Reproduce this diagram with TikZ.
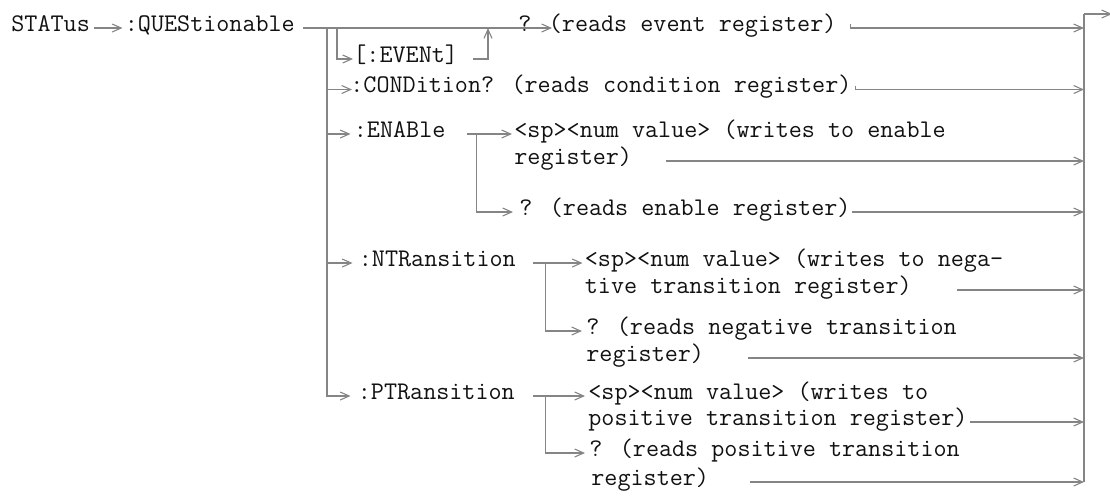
\documentclass[tikz,border=0pt]{standalone}
\usepackage{fontspec}
\usepackage{tikz}
\usetikzlibrary{arrows.meta,calc}
\definecolor{wire}{HTML}{858585}
\definecolor{ink}{HTML}{111111}

\begin{document}
\begin{tikzpicture}[
  x=0.5pt, y=-0.5pt,
  >={Straight Barb[length=4.5pt,width=4pt]},
  kw/.style={anchor=west, inner sep=0pt, text height=7pt, text depth=3.8pt,
             font=\ttfamily\fontsize{12.69}{16}\selectfont, text=ink},
  wire/.style={draw=wire, line width=0.55pt},
]
\useasboundingbox (0,0) rectangle (1110,495);
\def\xbus{1084}

% ===== root: STATus -> :QUEStionable =====
\node[kw] (status) at (11,28) {STATus};
\node[kw] (quest) at (124.5,28) {:QUEStionable};
\draw[wire,->] (status.east) ++(4,0) -- ([xshift=-1pt]quest.west);

% ===== [:EVENt] (optional) =====
\node[kw] (event) at (353,59) {[:EVENt]};
\node[kw] (evq) at (518,28) {? (reads event register)};
\coordinate (trunk) at (327,28);
\coordinate (evsplit) at (337,28);
\coordinate (evjoin) at (488,28);
\draw[wire,->] (quest.east) ++(8,0) -- ([xshift=17pt]evq.west);
\draw[wire,->] (evsplit) |- (event.west);
\draw[wire,->] (event.east) ++(15,0) -| (evjoin);

% ===== trunk branches =====
\node[kw] (cond) at (350,89.5) {:CONDition? (reads condition register)};
\node[kw] (ena) at (353.5,134) {:ENABle};
\node[kw] (ntr) at (358.5,263) {:NTRansition};
\node[kw] (ptr) at (357.5,396) {:PTRansition};
\draw[wire,->] (trunk) |- ([xshift=-3.5pt]ptr.west);
\draw[wire,->] (trunk |- cond) -- ([xshift=1pt]cond.west);
\draw[wire,->] (trunk |- ena) -- ([xshift=-1.5pt]ena.west);
\draw[wire,->] (trunk |- ntr) -- ([xshift=-3pt]ntr.west);

% ENABle: write / query
\node[kw] (enaw) at (514,134) {<sp><num value> (writes to enable};
\node[kw] (enaw2) at (514,161) {register)};
\node[kw] (enaq) at (519,212) {? (reads enable register)};
\draw[wire,->] (ena.east) ++(21,0) -- ([xshift=-1pt]enaw.west);
\draw[wire,->] (ena.east) ++(31,0) |- ([xshift=-3pt]enaq.west);

% NTRansition: write / query
\node[kw] (ntrw) at (584.5,263) {<sp><num value> (writes to nega-};
\node[kw] (ntrw2) at (584.5,290) {tive transition register)};
\node[kw] (ntrq) at (586,331) {? (reads negative transition};
\node[kw] (ntrq2) at (586,358) {register)};
\draw[wire,->] (ntr.east) ++(17,0) -- ([xshift=-1pt]ntrw.west);
\draw[wire,->] (ntr.east) ++(29,0) |- ([xshift=-2pt]ntrq.west);

% PTRansition: write / query
\node[kw] (ptrw) at (588,396) {<sp><num value> (writes to};
\node[kw] (ptrw2) at (588,422) {positive transition register)};
\node[kw] (ptrq) at (589,453) {? (reads positive transition};
\node[kw] (ptrq2) at (591,482) {register)};
\draw[wire,->] (ptr.east) ++(18,0) -- ([xshift=-1.5pt]ptrw.west);
\draw[wire,->] (ptr.east) ++(30,0) |- ([xshift=-2pt]ptrq.west);

% ===== collector bus on the right =====
\coordinate (bustop) at (\xbus,14);
\coordinate (exit) at (1112,14);
\draw[wire] (bustop) -- (bustop |- ptrq2);
\draw[wire,->] (bustop) -- (exit);
\draw[wire,->] (evq.east) ++(14,-4) |- (evq -| bustop);
\draw[wire,->] (cond.east) ++(4,-4) |- (cond -| bustop);
\draw[wire,->] (enaw2.east) ++(34,0) -- (enaw2 -| bustop);
\draw[wire,->] (enaq.east) ++(1,0) -- (enaq -| bustop);
\draw[wire,->] (ntrw2.east) ++(45,0) -- (ntrw2 -| bustop);
\draw[wire,->] (ntrq2.east) ++(44,0) -- (ntrq2 -| bustop);
\draw[wire,->] (ptrw2.east) ++(2,0) -- (ptrw2 -| bustop);
\draw[wire,->] (ptrq2.east) ++(41,0) -- (ptrq2 -| bustop);
\end{tikzpicture}
\end{document}
